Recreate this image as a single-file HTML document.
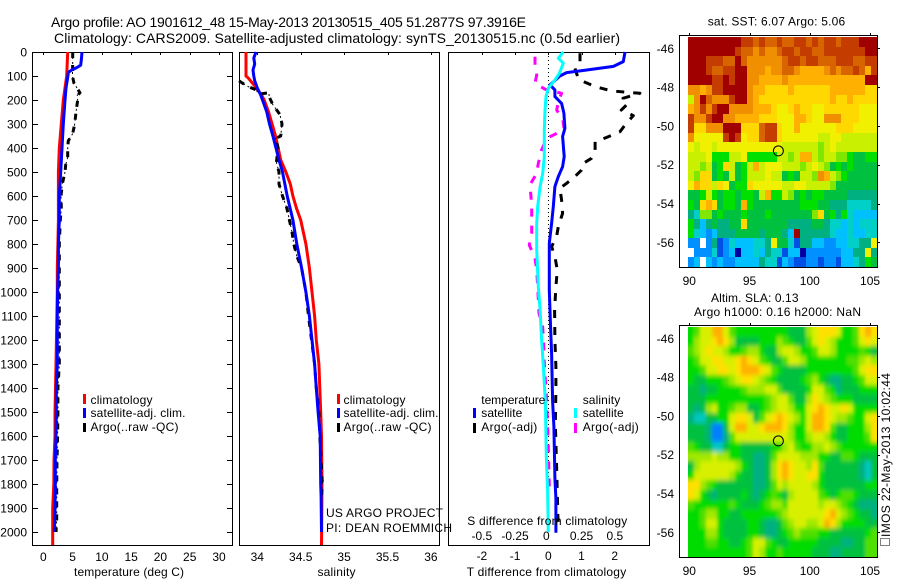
<!DOCTYPE html>
<html>
<head>
<meta charset="utf-8">
<title>Argo profile</title>
<style>
html,body{margin:0;padding:0;background:#fff;}
svg{display:block;}
text{font-family:"Liberation Sans",sans-serif;font-size:12px;fill:#000;}
.title{font-size:14px;}
.crisp{shape-rendering:crispEdges;}
</style>
</head>
<body>
<svg id="chart" xmlns="http://www.w3.org/2000/svg" width="900" height="580" viewBox="0 0 900 580">
  <defs>
    <clipPath id="sla-clip"><rect x="688" y="327" width="189" height="230"/></clipPath>
    <filter id="sla-blur" x="-10%" y="-10%" width="120%" height="120%"><feGaussianBlur stdDeviation="1.5 2.5"/></filter>
  </defs>
  <rect x="0" y="0" width="900" height="580" fill="#fff"/>
  <text class="title" x="51" y="27" textLength="475" lengthAdjust="spacing">Argo profile: AO 1901612_48 15-May-2013 20130515_405 51.2877S 97.3916E</text>
  <text class="title" x="54" y="43" textLength="566" lengthAdjust="spacing">Climatology: CARS2009. Satellite-adjusted climatology: synTS_20130515.nc (0.5d earlier)</text>

  <g id="panels"></g>

  <text x="74" y="576" textLength="110" lengthAdjust="spacing">temperature (deg C)</text>
  <text x="317.5" y="576" textLength="38" lengthAdjust="spacing">salinity</text>
  <text x="466.7" y="576" textLength="159.5" lengthAdjust="spacing">T difference from climatology</text>
  <text x="467.3" y="525" textLength="160" lengthAdjust="spacing">S difference from climatology</text>

  <g>
    <rect class="crisp" x="83" y="394" width="3" height="10" fill="#ff0000"/>
    <rect class="crisp" x="83" y="408" width="3" height="10" fill="#0000ff"/>
    <rect class="crisp" x="83" y="423" width="3" height="9" fill="#000"/>
    <text x="90.5" y="404" textLength="62" lengthAdjust="spacing">climatology</text>
    <text x="90.5" y="417" textLength="95" lengthAdjust="spacing">satellite-adj. clim.</text>
    <text x="90.5" y="431" textLength="88" lengthAdjust="spacing">Argo(..raw -QC)</text>
  </g>
  <g>
    <rect class="crisp" x="337" y="394" width="3" height="10" fill="#ff0000"/>
    <rect class="crisp" x="337" y="408" width="3" height="10" fill="#0000ff"/>
    <rect class="crisp" x="337" y="423" width="3" height="9" fill="#000"/>
    <text x="343.5" y="404" textLength="62" lengthAdjust="spacing">climatology</text>
    <text x="343.5" y="417" textLength="95" lengthAdjust="spacing">satellite-adj. clim.</text>
    <text x="343.5" y="431" textLength="88" lengthAdjust="spacing">Argo(..raw -QC)</text>
  </g>
  <text x="326" y="517" textLength="117" lengthAdjust="spacing">US ARGO PROJECT</text>
  <text x="326" y="532" textLength="126" lengthAdjust="spacing">PI: DEAN ROEMMICH</text>
  <g>
    <text x="481.3" y="404" textLength="64" lengthAdjust="spacing">temperature</text>
    <rect class="crisp" x="473" y="408" width="3" height="10" fill="#0000ff"/>
    <text x="481.3" y="417" textLength="41" lengthAdjust="spacing">satellite</text>
    <rect class="crisp" x="473" y="423" width="3" height="10" fill="#000"/>
    <text x="481.3" y="431" textLength="56" lengthAdjust="spacing">Argo(-adj)</text>
    <text x="582.7" y="404" textLength="37.5" lengthAdjust="spacing">salinity</text>
    <rect class="crisp" x="574" y="408" width="3" height="10" fill="#00ffff"/>
    <text x="582.7" y="417" textLength="41" lengthAdjust="spacing">satellite</text>
    <rect class="crisp" x="574" y="423" width="3" height="10" fill="#ff00ff"/>
    <text x="582.7" y="431" textLength="56" lengthAdjust="spacing">Argo(-adj)</text>
  </g>

  <text x="707.7" y="25.5" textLength="137.5" lengthAdjust="spacing">sat. SST: 6.07 Argo: 5.06</text>
  <text x="711" y="302" textLength="87.5" lengthAdjust="spacing">Altim. SLA: 0.13</text>
  <text x="694" y="316" textLength="167" lengthAdjust="spacing">Argo h1000: 0.16 h2000: NaN</text>
  <rect x="880.5" y="538.5" width="9" height="7" fill="none" stroke="#000" stroke-width="1" stroke-dasharray="1 1" class="crisp"/>
  <text transform="translate(890,537) rotate(-90)" x="0" y="0" textLength="164" lengthAdjust="spacing">IMOS 22-May-2013 10:02:44</text>
</svg>
<script>
// ---- chart data ----
var depthTicks = [0,100,200,300,400,500,600,700,800,900,1000,1100,1200,1300,1400,1500,1600,1700,1800,1900,2000];
var tempTicks = [0,5,10,15,20,25,30];
var salTicks = [34,34.5,35,35.5,36];
var salTickLabels = ["34","34.5","35","35.5","36"];
var dtTicks = [-2,-1,0,1,2];
var dsTicks = [-0.5,-0.25,0,0.25,0.5];
var dsTickLabels = ["-0.5","-0.25","0","0.25","0.5"];
var latTicks = [46,48,50,52,54,56];
var lonTicks = [90,95,100,105];

var tempClimDepth = [0,100,200,300,400,500,600,700,800,900,1000,1300,1500,1600,1700,1800,1900,2054];
var tempClimValues = [4.16,4.0,3.42,3.08,2.74,2.57,2.57,2.57,2.5,2.39,2.39,2.17,2.0,2.0,1.83,1.8,1.6,1.6];
var tempSatDepth = [0,30,55,65,75,85,100,150,200,300,400,500,600,700,800,900,1000,1100,1300,1400,1500,1600,1700,1800,1900,2000];
var tempSatValues = [6.6,6.5,6.38,5.7,4.85,4.27,4.2,3.88,3.7,3.42,3.2,2.97,2.74,2.74,2.57,2.57,2.45,2.39,2.39,2.22,2.22,2.17,2.05,2.05,2.0,1.88];
var tempArgoDepth = [0,50,100,130,170,180,200,250,300,340,370,400,440,470,500,550,600,650,700,800,900,1000,1100,1200,1300,1400,1500,1600,1700,1800,1950,2000];
var tempArgoValues = [5.02,5.02,4.96,5.24,6.27,5.8,5.87,5.58,5.36,5.02,4.27,4.16,4.16,3.82,3.7,3.24,3.02,3.08,2.9,2.74,2.74,2.74,2.74,2.74,2.74,2.5,2.5,2.45,2.34,2.28,2.28,2.17];

var salClimDepth = [0,100,110,150,180,200,250,300,350,400,450,500,550,600,650,700,750,800,900,1000,1100,1200,1300,1400,1500,1600,1800,2054];
var salClimValues = [33.87,33.87,33.9,33.99,34.05,34.08,34.13,34.17,34.21,34.24,34.27,34.33,34.38,34.41,34.45,34.5,34.53,34.56,34.6,34.63,34.66,34.68,34.71,34.72,34.73,34.74,34.745,34.74];
var salSatDepth = [0,25,50,75,100,120,150,180,200,250,300,350,400,450,500,600,700,800,900,1000,1100,1200,1300,1400,1500,1600,1800,1850,2000];
var salSatValues = [33.985,33.96,33.97,33.95,33.96,33.97,34.0,34.04,34.06,34.11,34.14,34.18,34.215,34.25,34.29,34.345,34.41,34.455,34.51,34.56,34.6,34.63,34.66,34.68,34.7,34.725,34.73,34.735,34.74];
var salArgoDepth = [120,130,145,155,175,170,190,220,260,300,350,360,400,460,500,550,600,650,700,750,800,850,900,1000,1100,1300,1400,1500,1600,1800,1850];
var salArgoValues = [33.79,33.83,33.9,33.97,34.03,34.13,34.14,34.18,34.26,34.285,34.27,34.21,34.24,34.22,34.25,34.25,34.29,34.34,34.37,34.4,34.42,34.455,34.51,34.56,34.59,34.66,34.68,34.71,34.72,34.75,34.74];

var dtSatDepth = [0,40,60,75,86,100,137,158,186,214,255,318,352,436,478,519,561,644,714,797,992,1150,1255,1455,1560,1775,1860,2003];
var dtSatValues = [2.31,2.26,1.96,1.16,0.55,0.35,0.05,0.2,0.2,0.4,0.47,0.5,0.43,0.48,0.43,0.3,0.2,0.15,0.1,0.03,0.03,0.07,0.1,0.13,0.17,0.2,0.23,0.23];
var dtArgoDepth = [5,40,68,110,123,144,162,172,193,214,242,265,304,332,356,374,415,443,464,492,526,547,568,617,672,728,769,811,853,908,978,1075,1200,1311,1409,1547,1728,1936,1985];
var dtArgoValues = [0.955,0.955,0.8,0.9,1.05,1.41,1.9,2.76,2.25,2.4,2.2,2.56,2.31,2.16,1.76,1.41,1.41,1.3,1.05,1.0,0.75,0.55,0.35,0.4,0.43,0.3,0.25,0.1,0.2,0.27,0.23,0.19,0.2,0.23,0.23,0.21,0.25,0.29,0.3];
var dsSatDepth = [0,26,47,89,117,151,186,242,325,436,506,561,644,714,825,978,1075,1200,1311,1464,1686,1825,1999];
var dsSatValues = [0.113,0.075,0.113,0.083,0.05,0,-0.017,-0.025,-0.03,-0.03,-0.042,-0.062,-0.08,-0.087,-0.087,-0.075,-0.062,-0.05,-0.037,-0.022,-0.015,-0.005,0];
var dsArgoDepth = [20,55,96,130,155,172,207,242,283,318,339,360,408,464,506,554,603,644,707,756,804,860,908,978,1089,1145,1214,1300,1450,1645,1825];
var dsArgoValues = [-0.1,-0.1,-0.087,-0.1,-0.025,0.1,0.075,0.063,0.11,0.118,0.063,-0.012,-0.05,-0.075,-0.087,-0.138,-0.13,-0.125,-0.125,-0.125,-0.143,-0.1,-0.087,-0.08,-0.07,-0.042,-0.035,-0.03,-0.012,0,0.008];

var profileLon = 97.3916;
var profileLat = 51.2877;

// Heatmap colour classes per cell, north to south, west to east (32 per row)
var sstLevels = [
"0000"+"000"+"001"+"121221"+"22"+"11212"+"11211"+"1000",
"0000"+"000"+"012"+"232332"+"11"+"21122"+"11111"+"1100",
"0001"+"112"+"202"+"333333"+"21"+"12112"+"22111"+"2211",
"0001"+"221"+"100"+"333433"+"22"+"34444"+"32322"+"1241",
"0000"+"110"+"100"+"334444"+"34"+"44444"+"44444"+"4400",
"3343"+"110"+"000"+"344555"+"54"+"55555"+"54444"+"4455",
"7302"+"333"+"100"+"345555"+"55"+"55555"+"54554"+"5555",
"4313"+"100"+"333"+"344456"+"65"+"45566"+"55555"+"5666",
"1331"+"003"+"344"+"445556"+"66"+"44566"+"33355"+"5666",
"1553"+"330"+"005"+"552115"+"66"+"46666"+"66555"+"6666",
"3666"+"661"+"016"+"552115"+"66"+"66667"+"76677"+"7777",
"6766"+"766"+"666"+"666666"+"77"+"77778"+"76777"+"7777",
"7776"+"999"+"776"+"999997"+"78"+"74478"+"77889"+"aa99",
"7787"+"a95"+"7a9"+"747666"+"77"+"78767"+"8a9a9"+"aaaa",
"7855"+"a9a"+"7a9"+"777677"+"a9"+"a7783"+"4789a"+"aaaa",
"6455"+"756"+"a99"+"566666"+"77"+"66777"+"78aaa"+"aaaa",
"aa97"+"9a9"+"9a9"+"9a7499"+"78"+"a9a99"+"aaaab"+"bbbb",
"9a54"+"5a9"+"9a4"+"9aaaaa"+"aa"+"a999a"+"abbbc"+"cccb",
"bc88"+"a9a"+"aa9"+"aaa9aa"+"aa"+"aaa85"+"a9b9c"+"dddd",
"9bdb"+"abb"+"aa5"+"aaaaaa"+"ab"+"bbbaa"+"bccdc"+"dccc",
"9cde"+"dbb"+"baa"+"aabaaa"+"bd"+"0bbbb"+"bcddc"+"ddcc",
"ee.e"+"bfe"+"cdd"+"dccb6a"+"ac"+"fbbdd"+"eeddc"+"cbb6",
".eee"+"cfe"+"dgd"+"dcdbcc"+"fd"+"dgeee"+"eeedd"+"bb6b",
"ed.d"+"ede"+"edd"+"ddbccf"+"de"+"ffeef"+"eefdd"+"cb9a"
];
var slaLevels = [
"98664468"+"999999999"+"aaa"+"765556"+"998"+"545",
"97665457"+"aaaa"+"999"+"789"+"aa"+"86567"+"9998"+"656",
"87656679"+"98"+"77"+"9aa"+"7667"+"998"+"667"+"99998"+"9a",
"98665566"+"5456"+"89aa"+"8667"+"9999"+"9998"+"8767",
"99866556"+"544456"+"89aaaa9"+"9999999"+"8655",
"9aa99987"+"655678"+"9aaaa9"+"879"+"abbaa"+"9866",
"aabaa999"+"987776"+"68aaaa"+"96689"+"baaa"+"999",
"aaa99999"+"9999987"+"668aa"+"75678"+"999a"+"aaa",
"aba76998"+"77aa98"+"766799"+"65456656"+"9999",
"bccaa996"+"556a86"+"545679"+"64456778"+"9965",
"aaabeea6"+"446654"+"445799"+"64458aa9"+"9975",
"aaabeeb8"+"666666"+"666799"+"76679aa9"+"9985",
"89aacca9"+"9aaaaa"+"997689"+"97767899"+"9999",
"77776779"+"9aabba"+"866667"+"7799aa88"+"9aaa",
"a7666666"+"79abba"+"754566"+"758aaaaa"+"abca",
"96666667"+"9aabba"+"754566"+"559aaaaa"+"abca",
"55789aaa"+"aaabba"+"867666"+"679aaaaa"+"aa99",
"569abaaa"+"a9aba9"+"89a766"+"6689a988"+"9aaa",
"89999998"+"9aaa98"+"778666"+"66766789"+"abbb",
"9987799a"+"a99999"+"987666"+"66654678"+"9aab",
"998669aa"+"aa99ab"+"ba8766"+"77645799"+"99aa",
"999779aa"+"aa99ab"+"ba9878"+"8899aaaa"+"aa98",
"9998899a"+"a98668"+"9aa999"+"99aaaabb"+"aa88",
"99999999"+"998679"+"989999"+"9aaabbaa"+"aa88"
];

// ---- axis functions ----
var PLOT_TOP = 52, PLOT_BOTTOM = 545;
function yDepth(d){ return PLOT_TOP + 0.24 * d; }
function xTemp(v){ return 43.3 + 5.857 * v; }
function xSal(v){ return 257.3 + 86.8 * (v - 34); }
function xDT(v){ return 548.3 + 33.2 * v; }
function xDS(v){ return 548.3 + 133 * v; }
function xLon(lon){ return 689.3 + 12.05 * (lon - 90); }
function yLatTop(lat){ return 48.3 + 19.4 * (lat - 46); }
function yLatBottom(lat){ return 338.3 + 19.4 * (lat - 46); }

var NS = "http://www.w3.org/2000/svg";
var root = document.getElementById("panels");
var sstColor = {"0":"#a00000","1":"#c43c00","2":"#d86400","3":"#f09000","4":"#ffb000","5":"#ffd800","6":"#f0f000","7":"#c8f000","8":"#80e800","9":"#00e000","a":"#00c040","b":"#00b080","c":"#00d0c8","d":"#00c0ff","e":"#0090ff","f":"#0050e8","g":"#0000a0",".":"#ffffff"};
var slaColor = {"4":"#ffb000","5":"#ffe000","6":"#d8f000","7":"#a0e800","8":"#50e000","9":"#00dc00","a":"#00c040","b":"#00b080","c":"#00c8c0","d":"#00c0ff","e":"#0080ff"};

function mk(tag, attrs, parent){
  var el = document.createElementNS(NS, tag);
  for (var k in attrs) el.setAttribute(k, attrs[k]);
  (parent || root).appendChild(el);
  return el;
}
function frame(x0,y0,x1,y1,name){
  var r = mk("rect",{x:x0+0.5,y:y0+0.5,width:x1-x0,height:y1-y0,fill:"none",stroke:"#000","stroke-width":1,"class":"crisp"});
  
  
}
function tick(x1,y1,x2,y2,name){
  var l = mk("line",{x1:x1,y1:y1,x2:x2,y2:y2,stroke:"#000","stroke-width":1,"class":"crisp"});
  
  
}
function label(x,y,str,anchor,name){
  var t = mk("text",{x:x,y:y,"text-anchor":anchor});
  t.textContent = str;
  
  
}
function series(depths, values, xFn, color, width, dash, name){
  var pts = [];
  for (var i = 0; i < depths.length; i++) pts.push(xFn(values[i]).toFixed(1) + "," + yDepth(depths[i]).toFixed(1));
  var attrs = {points:pts.join(" "),fill:"none",stroke:color,"stroke-width":width,"stroke-linejoin":"round"};
  if (dash) attrs["stroke-dasharray"] = dash;
  var p = mk("polyline", attrs);
  
  
}
function brokenSeries(depths, values, xFn, color, heavyDash, name){
  series(depths,values,xFn,color,1,"2 3",name + "-thin");
  series(depths,values,xFn,color,3,heavyDash,name);
}

// frames
frame(32,PLOT_TOP,232,PLOT_BOTTOM,"temperature-plot-frame");
frame(239,PLOT_TOP,439,PLOT_BOTTOM,"salinity-plot-frame");
frame(448,PLOT_TOP,649,PLOT_BOTTOM,"difference-plot-frame");

// depth ticks and labels
depthTicks.forEach(function(d){
  var y = Math.round(yDepth(d)) + 0.5;
  tick(32,y,38,y,"depth-tick-left");
  tick(227,y,232,y,"depth-tick-right");
  label(27,yDepth(d)+4.5,String(d),"end","depth-tick-label");
});
tempTicks.forEach(function(v){
  var x = Math.round(xTemp(v)) + 0.5;
  tick(x,PLOT_TOP,x,PLOT_TOP+3,"temperature-tick");
  label(xTemp(v),561,String(v),"middle","temperature-tick-label");
});
salTicks.forEach(function(v,i){
  var x = Math.round(xSal(v)) + 0.5;
  tick(x,PLOT_TOP,x,PLOT_TOP+3,"salinity-tick");
  label(xSal(v),561,salTickLabels[i],"middle","salinity-tick-label");
});
dtTicks.forEach(function(v){
  var x = Math.round(xDT(v)) + 0.5;
  tick(x,PLOT_TOP,x,PLOT_TOP+3,"t-difference-tick");
  label(xDT(v),560,String(v),"middle","t-difference-tick-label");
});
dsTicks.forEach(function(v,i){
  label(xDS(v)-(v===0?2:0),540,dsTickLabels[i],"middle","s-difference-tick-label");
});

// zero line
var zero = mk("line",{x1:548.5,y1:PLOT_TOP,x2:548.5,y2:532,stroke:"#000","stroke-width":1,"stroke-dasharray":"1 3","class":"crisp"});



// temperature panel
series(tempClimDepth,tempClimValues,xTemp,"#ff0000",3,null,"temperature-climatology-line");
brokenSeries(tempArgoDepth,tempArgoValues,xTemp,"#000","6 7","temperature-argo-line");
series(tempSatDepth,tempSatValues,xTemp,"#0000ff",3,null,"temperature-satellite-line");
// salinity panel
series(salClimDepth,salClimValues,xSal,"#ff0000",3,null,"salinity-climatology-line");
brokenSeries(salArgoDepth,salArgoValues,xSal,"#000","6 7","salinity-argo-line");
series(salSatDepth,salSatValues,xSal,"#0000ff",3,null,"salinity-satellite-line");
// difference panel
series(dtArgoDepth,dtArgoValues,xDT,"#000",3,"8 9","t-difference-argo-line");
series(dsArgoDepth,dsArgoValues,xDS,"#ff00ff",3,"8 9","s-difference-argo-line");
series(dtSatDepth,dtSatValues,xDT,"#0000ff",3,null,"t-difference-satellite-line");
series(dsSatDepth,dsSatValues,xDS,"#00ffff",3,null,"s-difference-satellite-line");

// maps
var CELL_LON0 = 89.89, CELL_DLON = 0.49, CELL_LAT0 = 45.42, CELL_DLAT = 0.494;
function heatmap(levels, palette, yFn, namePrefix, parent, pad){
  levels.forEach(function(row, r){
    for (var c = 0; c < row.length; c++){
      var x0 = Math.round(xLon(CELL_LON0 + c * CELL_DLON));
      var x1 = Math.round(xLon(CELL_LON0 + (c + 1) * CELL_DLON));
      var y0 = Math.round(yFn(CELL_LAT0 + r * CELL_DLAT));
      var y1 = Math.round(yFn(CELL_LAT0 + (r + 1) * CELL_DLAT));
      if (c === 0) x0 -= pad;
      if (c === row.length - 1) x1 += pad;
      if (r === 0) y0 -= pad;
      if (r === levels.length - 1) y1 += pad;
      var cell = mk("rect",{x:x0,y:y0,width:x1-x0,height:y1-y0,fill:palette[row.charAt(c)] || "#00e000","class":"crisp"},parent);
      
      
    }
  });
}
heatmap(sstLevels, sstColor, yLatTop, "sst", root, 0);

var slaClip = mk("g",{"clip-path":"url(#sla-clip)"});


var slaBlur = mk("g",{filter:"url(#sla-blur)"},slaClip);


heatmap(slaLevels, slaColor, yLatBottom, "sla", slaBlur, 12);

function mapAxes(yFn, top, bottom, lonLabelY, prefix){
  frame(679,top,877,bottom,prefix + "-map-frame");
  lonTicks.forEach(function(lon){
    var x = Math.round(xLon(lon)) + 0.5;
    tick(x,top-2,x,top,prefix + "-longitude-tick");
    label(xLon(lon),lonLabelY,String(lon),"middle",prefix + "-longitude-label");
  });
  latTicks.forEach(function(lat){
    var y = Math.round(yFn(lat)) + 0.5;
    tick(877,y,880,y,prefix + "-latitude-tick");
    label(674,yFn(lat)+4.5,"-" + lat,"end",prefix + "-latitude-label");
  });
  var m = mk("circle",{cx:xLon(profileLon),cy:yFn(profileLat),r:5,fill:"none",stroke:"#000","stroke-width":1});
  
  
}
mapAxes(yLatTop, 35, 267, 285, "sst");
mapAxes(yLatBottom, 325, 557, 575, "sla");
</script>
</body>
</html>
